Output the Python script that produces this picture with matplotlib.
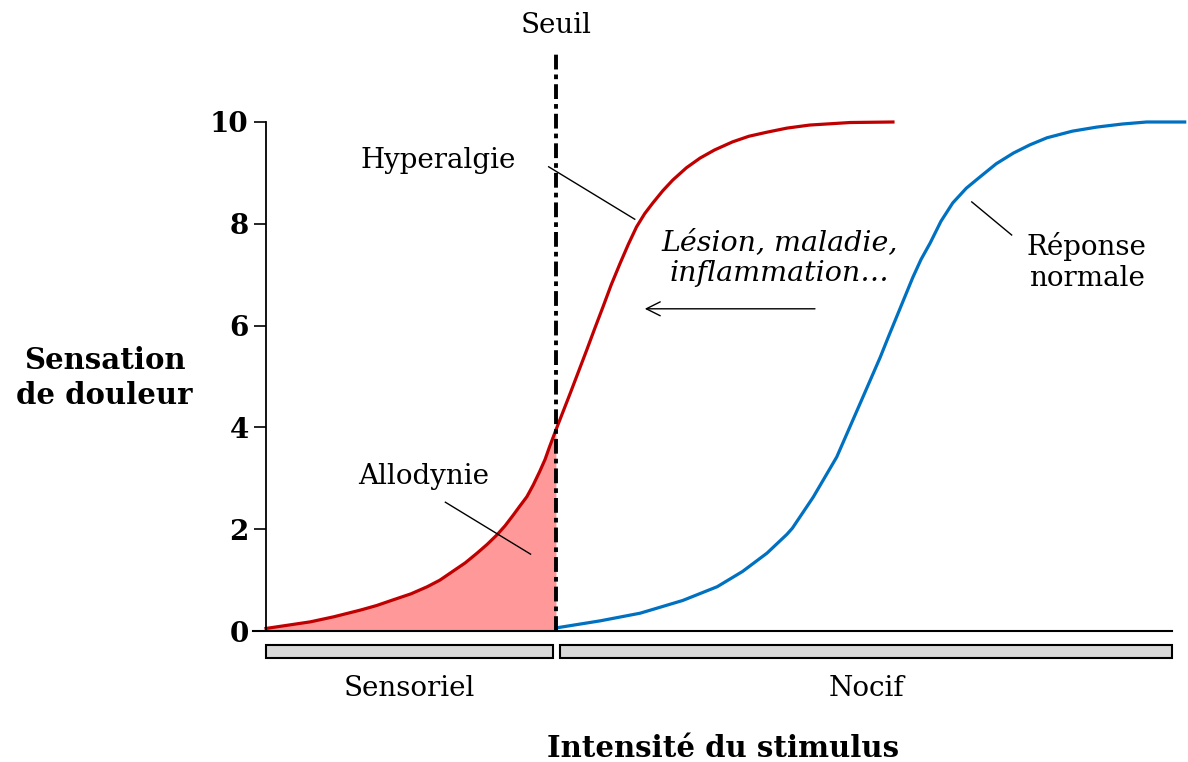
import matplotlib.pyplot as plt
from matplotlib.patches import Rectangle

plt.rcParams['font.family'] = ['DejaVu Serif']

# intensité du stimulus (unités arbitraires) et sensation de douleur
x_hyper = [0.0, 0.49, 0.75, 1.04, 1.22, 1.40, 1.60, 1.78, 1.92, 2.06, 2.20, 2.33, 2.44,
           2.55, 2.64, 2.73, 2.80, 2.88, 2.95, 3.02, 3.08, 3.13, 3.20,
           3.36, 3.45, 3.54, 3.63, 3.72, 3.81, 3.91, 4.00, 4.09, 4.18, 4.27, 4.38, 4.49,
           4.64, 4.79, 4.95, 5.15, 5.33, 5.53, 5.75, 6.00, 6.45, 6.92]
y_hyper = [0.05, 0.18, 0.28, 0.41, 0.50, 0.61, 0.73, 0.87, 1.00, 1.17, 1.34, 1.53, 1.70,
           1.89, 2.07, 2.28, 2.45, 2.64, 2.87, 3.13, 3.37, 3.62, 3.95,
           4.68, 5.10, 5.52, 5.95, 6.37, 6.80, 7.23, 7.60, 7.94, 8.20, 8.41, 8.65, 8.86,
           9.10, 9.29, 9.45, 9.61, 9.72, 9.80, 9.88, 9.94, 9.99, 10.0]

x_normal = [3.20, 3.69, 4.13, 4.60, 4.98, 5.26, 5.53, 5.75, 5.81, 6.04, 6.30, 6.43, 6.56,
            6.67, 6.78, 6.87, 6.96, 7.05, 7.14, 7.23, 7.33, 7.45, 7.58, 7.73, 7.88,
            8.06, 8.25, 8.43, 8.62, 8.90, 9.17, 9.45, 9.72, 10.14]
y_normal = [0.06, 0.20, 0.35, 0.60, 0.87, 1.17, 1.53, 1.90, 2.02, 2.63, 3.42, 3.95, 4.48,
            4.93, 5.38, 5.78, 6.17, 6.56, 6.95, 7.30, 7.62, 8.05, 8.41, 8.70, 8.92,
            9.18, 9.39, 9.55, 9.69, 9.82, 9.90, 9.96, 10.0, 10.0]

seuil = 3.2
zones = ['Sensoriel', 'Nocif']
zones_debut = [0.0, 3.25]
zones_fin = [3.17, 10.0]

fig = plt.figure(figsize=(11.88, 7.62), dpi=100)
ax = fig.add_axes([266 / 1188, 131 / 762, 906 / 1188, 509 / 762])
ax.set_xlim(0, 10)
ax.set_ylim(0, 10)

# zone d'allodynie (sous la courbe, avant le seuil)
xs = [v for v in x_hyper if v <= seuil]
ys = y_hyper[:len(xs)]
ax.fill_between(xs, 0, ys, color='#ff9999', lw=0)

ax.plot(x_hyper, y_hyper, color='#c00000', lw=2.3, clip_on=False, solid_joinstyle='round')
ax.plot(x_normal, y_normal, color='#0070c0', lw=2.3, clip_on=False, solid_joinstyle='round')

# seuil
ax.plot([seuil, seuil], [0, 11.37], color='black', lw=2.8, ls=(0, (3.8, 1.3, 1.2, 1.3)),
        clip_on=False)
ax.text(seuil, 11.9, 'Seuil', ha='center', va='center', fontsize=20)

# axes
for s in ['top', 'right', 'bottom']:
    ax.spines[s].set_visible(False)
ax.spines['left'].set_linewidth(1.3)
ax.plot([-0.14, 10.0], [0, 0], color='black', lw=1.5, clip_on=False)
ax.set_xticks([])
ax.set_yticks([0, 2, 4, 6, 8, 10])
ax.tick_params(axis='y', length=9, width=1.2, pad=3.5, labelsize=20)
for lab in ax.get_yticklabels():
    lab.set_fontweight('bold')

# barres Sensoriel / Nocif
for nom, a, b in zip(zones, zones_debut, zones_fin):
    ax.add_patch(Rectangle((a, -0.53), b - a, 0.25, facecolor='#d9d9d9',
                           edgecolor='black', lw=1.5, clip_on=False))
    ax.text((a + b) / 2, -1.12, nom, ha='center', va='center', fontsize=20)

ax.text(-1.78, 4.97, 'Sensation\nde douleur', ha='center', va='center', fontsize=21,
        fontweight='bold', linespacing=1.25)
ax.text(5.04, -2.3, 'Intensité du stimulus', ha='center', va='center', fontsize=21,
        fontweight='bold')

# annotations
ax.text(1.90, 9.25, 'Hyperalgie', ha='center', va='center', fontsize=20)
ax.plot([3.12, 4.07], [9.12, 8.09], color='black', lw=1)
ax.text(1.74, 3.03, 'Allodynie', ha='center', va='center', fontsize=20)
ax.plot([1.98, 2.92], [2.53, 1.51], color='black', lw=1)
ax.text(9.06, 7.25, 'Réponse\nnormale', ha='center', va='center', fontsize=20, linespacing=1.2)
ax.plot([7.79, 8.23], [8.43, 7.78], color='black', lw=1)
ax.text(5.67, 7.33, 'Lésion, maladie,\ninflammation…', ha='center', va='center',
        fontsize=20.5, style='italic', linespacing=1.2)
ax.annotate('', xy=(4.15, 6.33), xytext=(6.09, 6.33),
            arrowprops=dict(arrowstyle='->', color='black', lw=1, mutation_scale=25))

fig.savefig('out.png', dpi=100)
